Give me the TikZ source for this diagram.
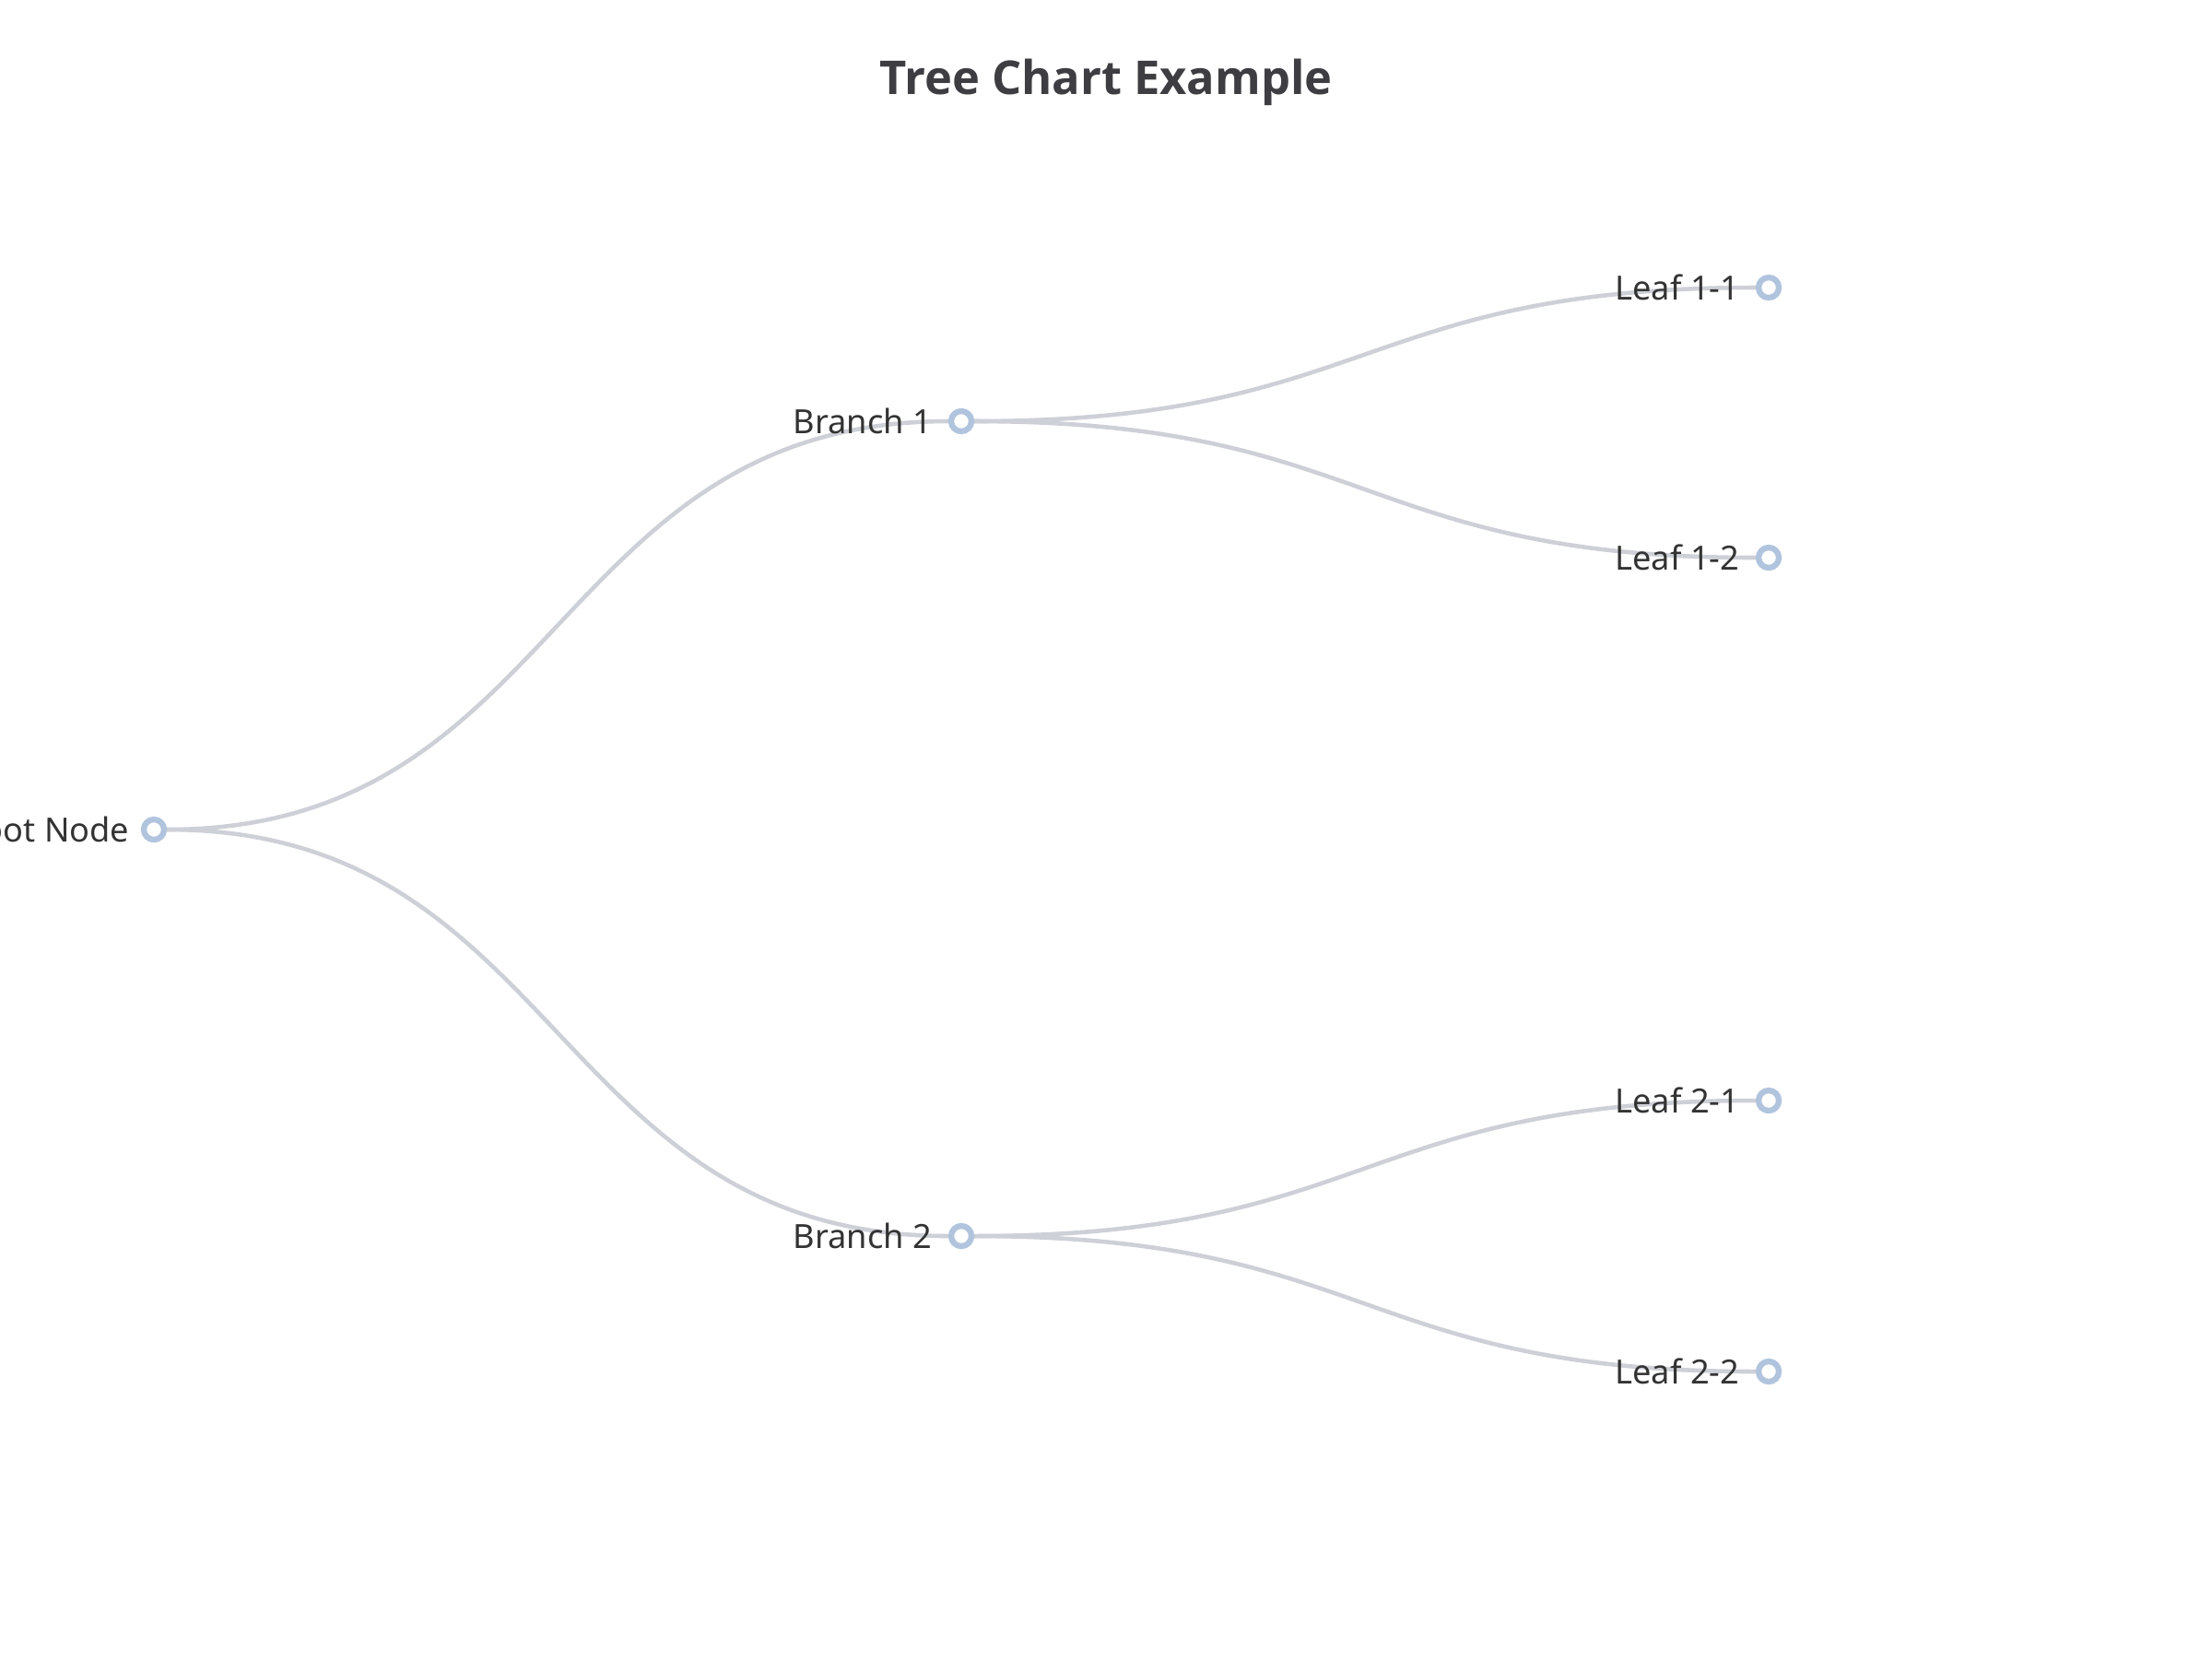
\documentclass[tikz,border=0pt]{standalone}
\usepackage{fontspec}
\setmainfont{Noto Sans}
\newfontfamily\titlefont{Open Sans}
\usepackage{xcolor}
\usetikzlibrary{positioning,backgrounds}
\definecolor{edgegray}{HTML}{CDD0D7}
\definecolor{dotblue}{HTML}{B0C4DE}
\definecolor{labeltext}{HTML}{333333}
\definecolor{titletext}{HTML}{3D3D42}

\begin{document}
\begin{tikzpicture}[
    dot/.style={circle, draw=dotblue, fill=white, line width=1.8pt, minimum size=0.22cm, inner sep=0pt},
    lbl/.style={text=labeltext, font=\fontsize{10.3}{12}\selectfont, inner sep=0pt},
    link/.style={draw=edgegray, line width=1.3pt}
]
            \useasboundingbox (0,0) rectangle (24,-18);
            \node[text=titletext, font=\titlefont\bfseries\fontsize{14.4}{18}\selectfont] (title) at (12,-0.89) {Tree Chart Example};
            % nodes
            \node[dot] (root) at (1.67,-9.00) {};
            \node[dot] (b1) at (10.43,-4.57) {};
            \node[dot] (b2) at (10.43,-13.41) {};
            \node[dot] (l11) at (19.19,-3.12) {};
            \node[dot] (l12) at (19.19,-6.05) {};
            \node[dot] (l21) at (19.19,-11.94) {};
            \node[dot] (l22) at (19.19,-14.88) {};
            % labels
            \node[lbl, left=0.12cm of root] {Root Node};
            \node[lbl, left=0.17cm of b1] {Branch 1};
            \node[lbl, left=0.17cm of b2] {Branch 2};
            \node[lbl, left=0.17cm of l11] {Leaf 1-1};
            \node[lbl, left=0.17cm of l12] {Leaf 1-2};
            \node[lbl, left=0.17cm of l21] {Leaf 2-1};
            \node[lbl, left=0.17cm of l22] {Leaf 2-2};
            % edges
            \begin{scope}[on background layer]
                \foreach \a/\b in {root/b1, root/b2, b1/l11, b1/l12, b2/l21, b2/l22}
                    \draw[link] (\a.east) .. controls +(4.3,0) and +(-4.3,0) .. (\b.west);
            \end{scope}
\end{tikzpicture}
\end{document}
